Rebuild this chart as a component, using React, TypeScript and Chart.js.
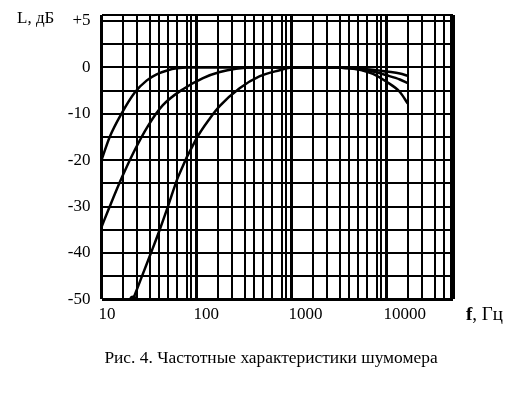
import React, { useEffect, useRef } from "react";
import { Chart, registerables } from "chart.js";

Chart.register(...registerables);

// Curve 1 (fast low-frequency roll-off)
const curve1Freq = [10, 12.2, 16.2, 22.4, 30, 38, 50, 62, 80, 150, 1000, 3000, 4000, 5500, 7200, 10000, 13800, 16700];
const curve1Level = [-20, -15, -10, -5.4, -2.8, -1.5, -0.6, -0.2, 0, 0, 0, 0, -0.1, -0.35, -0.5, -0.9, -1.3, -1.8];

// Curve 2
const curve2Freq = [10, 12.2, 16.5, 22.4, 30.9, 44, 72, 117, 176, 260, 400, 1000, 3000, 4000, 5500, 7200, 10000, 13800, 16700];
const curve2Level = [-34.4, -30, -23.6, -17.8, -12.6, -8.2, -4.7, -2.3, -1.0, -0.3, 0, 0, 0, -0.15, -0.5, -0.9, -1.7, -2.6, -3.4];

// Curve 3 (slow low-frequency roll-off)
const curve3Freq = [21.5, 33.6, 41, 50, 64, 100, 138, 176, 284, 464, 750, 1000, 3000, 4000, 5500, 7200, 10000, 13800, 16700];
const curve3Level = [-50, -39.7, -35, -30, -23.6, -15.3, -11.0, -8.3, -4.5, -1.9, -0.6, 0, 0, -0.2, -0.6, -1.4, -3.1, -5.3, -7.8];

// Axis description
const xDecades = [10, 100, 1000, 10000];
const xGridMultipliers = [1, 1.7, 2.35, 3.2, 4, 5, 6.25, 7.85, 8.7];
const xMin = 10;
const xMax = 50000;
const xTickLabels = ["10", "100", "1000", "10000"];

const yGridValues = [-50, -45, -40, -35, -30, -25, -20, -15, -10, -5, 0, 5, 10, 11.3];
const yTickValues = [-50, -40, -30, -20, -10, 0, 10];
const yTickLabels = ["-50", "-40", "-30", "-20", "-10", "0", "+5"];
const yMin = -50;
const yMax = 11.3;

const yTitle = "L, дБ";
const xTitleBold = "f";
const xTitleRest = ", Гц";
const caption = "Рис. 4. Частотные характеристики шумомера";

const FONT = "'Liberation Serif', 'Times New Roman', serif";

const toPoints = (fs: number[], ls: number[]) => fs.map((f, i) => ({ x: f, y: ls[i] }));

export default function App() {
  const ref = useRef<HTMLCanvasElement | null>(null);

  useEffect(() => {
    if (!ref.current) return;
    const xGrid: number[] = [];
    xDecades.forEach((d) => xGridMultipliers.forEach((m) => {
      const v = d * m;
      if (v <= xMax + 1e-6) xGrid.push(v);
    }));

    const textPlugin = {
      id: "texts",
      afterDraw(chart: any) {
        const ctx = chart.ctx;
        const a = chart.chartArea;
        ctx.save();
        ctx.strokeStyle = "#000";
        ctx.lineWidth = 3;
        ctx.beginPath();
        ctx.moveTo(Math.round(a.right) - 1.5, a.top);
        ctx.lineTo(Math.round(a.right) - 1.5, a.bottom);
        ctx.stroke();
        ctx.fillStyle = "#000";
        ctx.textBaseline = "middle";
        ctx.font = `17px ${FONT}`;
        ctx.textAlign = "left";
        ctx.fillText(yTitle, 17, 19);
        ctx.font = `bold 19px ${FONT}`;
        const fw = ctx.measureText(xTitleBold).width;
        ctx.fillText(xTitleBold, 466, 315);
        ctx.font = `19px ${FONT}`;
        ctx.fillText(xTitleRest, 466 + fw, 315);
        ctx.font = `17.4px ${FONT}`;
        ctx.textAlign = "center";
        ctx.fillText(caption, 271, 358);
        ctx.restore();
      },
    };

    const mk = (fs: number[], ls: number[], marker: boolean) => ({
      data: toPoints(fs, ls),
      borderColor: "#000",
      backgroundColor: "#000",
      borderWidth: 2.5,
      pointRadius: (c: any) => (marker && c.dataIndex === 0 ? 2.5 : 0),
      pointHoverRadius: 0,
      cubicInterpolationMode: "monotone" as const,
      fill: false,
    });

    const chart = new Chart(ref.current, {
      type: "line",
      data: {
        datasets: [
          mk(curve1Freq, curve1Level, false),
          mk(curve2Freq, curve2Level, false),
          mk(curve3Freq, curve3Level, true),
        ],
      },
      options: {
        animation: false,
        responsive: false,
        devicePixelRatio: 1,
        layout: { padding: { left: 0, right: 66, top: 15, bottom: 0 } },
        plugins: { legend: { display: false }, tooltip: { enabled: false }, title: { display: false } },
        scales: {
          x: {
            type: "logarithmic",
            min: xMin,
            max: xMax,
            afterBuildTicks: (s: any) => {
              s.ticks = xGrid.map((v) => ({ value: v }));
            },
            afterFit: (s: any) => {
              s.height = 97.7;
              s.paddingLeft = 0;
              s.paddingRight = 0;
            },
            border: { display: false },
            grid: {
              color: "#000",
              drawTicks: false,
              lineWidth: (c: any) => {
                const v = c.tick ? c.tick.value : 0;
                const isDec = xDecades.some((d) => Math.abs(d - v) < 1e-6) || Math.abs(v - xMax) < 1e-6;
                return isDec ? 3 : 2;
              },
            },
            ticks: {
              autoSkip: false,
              maxRotation: 0,
              minRotation: 0,
              align: "start",
              labelOffset: -3,
              padding: 5,
              color: "#000",
              font: { family: FONT, size: 17 },
              callback: (v: any) => {
                const i = xDecades.findIndex((d) => Math.abs(d - Number(v)) < 1e-6);
                return i >= 0 ? xTickLabels[i] : "";
              },
            },
          },
          y: {
            type: "linear",
            min: yMin,
            max: yMax,
            afterBuildTicks: (s: any) => {
              s.ticks = yGridValues.map((v) => ({ value: v }));
            },
            afterFit: (s: any) => {
              s.width = 101.5;
              s.paddingTop = 0;
              s.paddingBottom = 0;
            },
            border: { display: false },
            grid: {
              color: "#000",
              drawTicks: false,
              lineWidth: (c: any) => {
                const v = c.tick ? c.tick.value : 0;
                return v === yMin ? 3 : 2;
              },
            },
            ticks: {
              autoSkip: false,
              padding: 11,
              color: "#000",
              font: { family: FONT, size: 17 },
              callback: (v: any) => {
                const i = yTickValues.indexOf(Number(v));
                return i >= 0 ? yTickLabels[i] : "";
              },
            },
          },
        },
      },
      plugins: [textPlugin],
    });
    return () => chart.destroy();
  }, []);

  return (
    <div style={{ position: "fixed", left: 0, top: 0, width: 519, height: 397, background: "#fff" }}>
      <canvas ref={ref} width={519} height={397} style={{ display: "block", width: 519, height: 397 }} />
    </div>
  );
}
